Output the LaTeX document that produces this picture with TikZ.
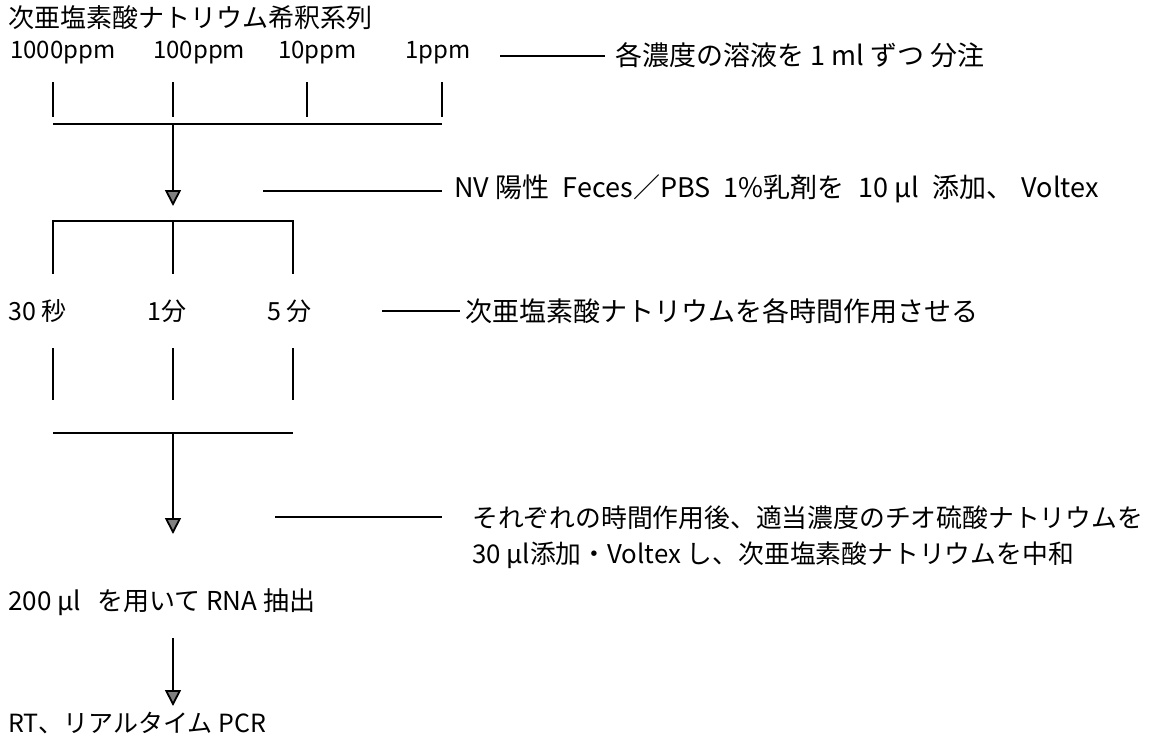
\documentclass[tikz,border=0pt]{standalone}
\usepackage{fontspec}
\setmainfont{Noto Sans CJK JP}
\usetikzlibrary{arrows.meta}
\tikzset{
  lbl/.style={anchor=base west, inner sep=0pt, font=\fontsize{25}{30}\selectfont},
  biglbl/.style={anchor=base west, inner sep=0pt, font=\fontsize{26}{30}\selectfont},
  ppmlbl/.style={anchor=base west, inner sep=0pt, font=\fontsize{24}{30}\selectfont},
  notelbl/.style={anchor=base west, inner sep=0pt, font=\fontsize{27}{32}\selectfont},
  longnote/.style={anchor=base west, inner sep=0pt, font=\fontsize{25.8}{32}\selectfont},
  ttl/.style={anchor=base west, inner sep=0pt, font=\fontsize{26}{30}\selectfont},
  ln/.style={line width=1.8pt, line cap=butt},
  flowarrow/.style={ln, -{Triangle[width=16pt,length=16pt,fill=gray]}}
}
\begin{document}
\begin{tikzpicture}[x=1pt,y=-1pt]
\useasboundingbox (0,0) rectangle (1164,739);
% title
\node[ttl] (title) at (8,27) {次亜塩素酸ナトリウム希釈系列};
% concentrations
\node[ppmlbl] (c1000) at (10,58) {1000ppm};
\node[ppmlbl] (c100) at (153,58) {100ppm};
\node[ppmlbl] (c10) at (278,58) {10ppm};
\node[ppmlbl] (c1) at (405,58) {1ppm};
\coordinate (n1a) at (500,56);
\coordinate (n1b) at (605,56);
\draw[ln] (n1a) -- (n1b);
\node[notelbl] (note1) at (615,65) {各濃度の溶液を 1 ml ずつ 分注};
% ticks under concentrations
\foreach \x/\n in {53/a,173/b,307/c,442/d}{
  \coordinate (tu\n) at (\x,82);
  \coordinate (tl\n) at (\x,117);
  \draw[ln] (tu\n) -- (tl\n);
}
\coordinate (bar1l) at (53,124);
\coordinate (bar1m) at (173,124);
\coordinate (bar1r) at (442,124);
\draw[ln] (bar1l) -- (bar1r);
\coordinate (arr1) at (173,206);
\draw[flowarrow] (bar1m) -- (arr1);
% NV note
\coordinate (n2a) at (263,191);
\coordinate (n2b) at (442,191);
\draw[ln] (n2a) -- (n2b);
\node[notelbl] (note2) at (454,197) {NV 陽性\hspace{0.5em}Feces／PBS\hspace{0.5em}1\%乳剤を\hspace{0.5em}10 μl\hspace{0.5em}添加、\hspace{0.3em}Voltex};
% bracket
\coordinate (br1) at (53,221);
\coordinate (br2) at (173,221);
\coordinate (br3) at (293,221);
\coordinate (bd1) at (53,274);
\coordinate (bd2) at (173,274);
\coordinate (bd3) at (293,274);
\draw[ln] (bd1) -- (br1) -- (br3) -- (bd3);
\draw[ln] (br2) -- (bd2);
% times
\node[lbl] (t30) at (8,320) {30 秒};
\node[lbl] (t1) at (147,320) {1分};
\node[lbl] (t5) at (267,320) {5 分};
\coordinate (n3a) at (382,311);
\coordinate (n3b) at (460,311);
\draw[ln] (n3a) -- (n3b);
\node[notelbl] (note3) at (465,321) {次亜塩素酸ナトリウムを各時間作用させる};
% lower ticks
\foreach \x/\n in {53/a,173/b,293/c}{
  \coordinate (su\n) at (\x,348);
  \coordinate (sl\n) at (\x,400);
  \draw[ln] (su\n) -- (sl\n);
}
\coordinate (bar2l) at (53,433);
\coordinate (bar2m) at (173,433);
\coordinate (bar2r) at (293,433);
\draw[ln] (bar2l) -- (bar2r);
\coordinate (arr2) at (173,534);
\draw[flowarrow] (bar2m) -- (arr2);
% neutralisation note
\coordinate (n4a) at (275,517);
\coordinate (n4b) at (442,517);
\draw[ln] (n4a) -- (n4b);
\node[longnote] (note4a) at (472,527) {それぞれの時間作用後、適当濃度のチオ硫酸ナトリウムを};
\node[longnote] (note4b) at (472,563) {30 μl添加・Voltex し、次亜塩素酸ナトリウムを中和};
% RNA extraction
\node[biglbl] (rna) at (8,610) {200 μl\hspace{0.4em} を用いて RNA 抽出};
\coordinate (arr3s) at (173,638);
\coordinate (arr3e) at (173,706);
\draw[flowarrow] (arr3s) -- (arr3e);
\node[lbl] (pcr) at (8,732) {RT、リアルタイム PCR};
\end{tikzpicture}
\end{document}
